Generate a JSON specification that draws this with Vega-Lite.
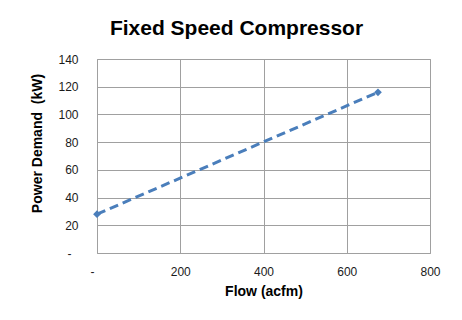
{
  "$schema": "https://vega.github.io/schema/vega-lite/v6.json",
  "autosize": "none",
  "width": 333,
  "height": 194,
  "padding": {"left": 97, "top": 59, "right": 32, "bottom": 67},
  "background": "white",
  "title": {
    "text": "Fixed Speed Compressor",
    "font": "Liberation Sans",
    "fontSize": 21,
    "fontWeight": "bold",
    "color": "#000000",
    "anchor": "middle",
    "baseline": "alphabetic",
    "offset": 1,
    "dx": -27,
    "dy": 4
  },
  "data": {
    "values": [
      {"flow": 0, "power": 28},
      {"flow": 675, "power": 116}
    ]
  },
  "encoding": {
    "x": {
      "field": "flow",
      "type": "quantitative",
      "scale": {"domain": [0, 800], "nice": false},
      "axis": {
        "title": "Flow (acfm)",
        "values": [0, 200, 400, 600, 800],
        "labelExpr": "datum.value == 0 ? '-' : datum.label",
        "labelOffset": {"condition": {"test": "datum.value == 0", "value": -5}, "value": 0},
        "labelFlush": false,
        "grid": true,
        "ticks": false,
        "domain": false,
        "labelPadding": 13,
        "titlePadding": 7
      }
    },
    "y": {
      "field": "power",
      "type": "quantitative",
      "scale": {"domain": [0, 140], "nice": false},
      "axis": {
        "title": "Power Demand\u00a0\u00a0(kW)",
        "values": [0, 20, 40, 60, 80, 100, 120, 140],
        "labelExpr": "datum.value == 0 ? '-' : datum.label",
        "labelPadding": {"condition": {"test": "datum.value == 0", "value": 26}, "value": 19},
        "labelFlush": false,
        "grid": true,
        "ticks": false,
        "domain": false,
        "titleX": -60,
        "titleY": 84,
        "titleAlign": "center",
        "titleBaseline": "middle",
        "titleAngle": -90
      }
    }
  },
  "layer": [
    {
      "mark": {
        "type": "line",
        "color": "#4a7ebb",
        "strokeWidth": 3,
        "strokeDash": [9, 5]
      }
    },
    {
      "mark": {
        "type": "point",
        "shape": "diamond",
        "filled": true,
        "color": "#4a7ebb",
        "size": 60,
        "opacity": 1
      }
    }
  ],
  "config": {
    "view": {"stroke": "#a0a0a0", "strokeWidth": 1},
    "axis": {
      "gridColor": "#a0a0a0",
      "gridWidth": 1,
      "gridOpacity": 1,
      "labelFont": "Liberation Sans",
      "labelFontSize": 12,
      "labelColor": "#1a1a1a",
      "titleFont": "Liberation Sans",
      "titleFontSize": 14,
      "titleFontWeight": "bold",
      "titleColor": "#000000"
    }
  }
}
